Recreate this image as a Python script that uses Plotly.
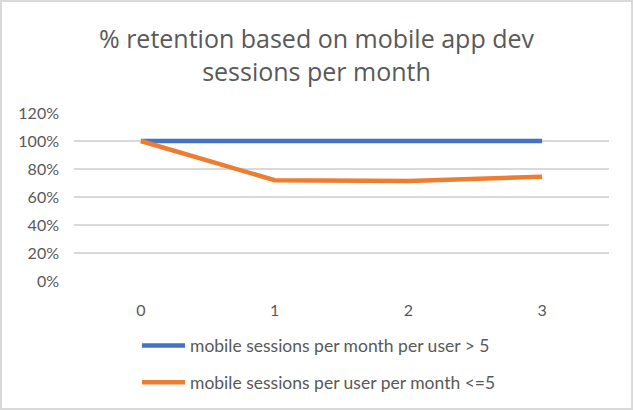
import plotly.graph_objects as go

months = ["0", "1", "2", "3"]
high_usage = [1.00, 1.00, 1.00, 1.00]
low_usage = [1.00, 0.72, 0.715, 0.745]
y_ticks = [0, 0.2, 0.4, 0.6, 0.8, 1.0, 1.2]
series_names = ["mobile sessions per month per user > 5",
                "mobile sessions per user per month <=5"]
title_text = "% retention based on mobile app dev<br>sessions per month"

FONT = "Lato"
TXT = "#595959"
GRID = "#D9D9D9"

L, R, T, B = 74, 24, 113, 129
W, H = 633, 410
PW, PH = W - L - R, H - T - B

fig = go.Figure()
fig.add_trace(go.Scatter(x=months, y=high_usage, mode="lines", name=series_names[0],
                         line=dict(color="#4472C4", width=4.5), legendgroup="a"))
fig.add_trace(go.Scatter(x=months, y=low_usage, mode="lines", name=series_names[1],
                         line=dict(color="#ED7D31", width=4.5), legendgroup="b"))

fig.update_layout(
    width=W, height=H,
    margin=dict(l=L, r=R, t=T, b=B, autoexpand=False),
    paper_bgcolor="white", plot_bgcolor="white",
    font=dict(family=FONT, color=TXT, size=16),
    title=dict(text=title_text, x=0.5, xanchor="center", y=1 - 48 / H, yanchor="middle",
               yref="container", font=dict(family="Open Sans", size=25, color=TXT)),
    showlegend=True,
    legend=dict(orientation="v", x=137 / W, xanchor="left", xref="container",
                y=1 - 364 / H, yanchor="middle", yref="container",
                tracegroupgap=11, itemwidth=43,
                font=dict(family=FONT, size=17.5, color=TXT), bgcolor="rgba(0,0,0,0)"),
    xaxis=dict(type="category", range=[-0.5, 3.5], showgrid=False, showline=False,
               zeroline=False, ticks="", ticklabelstandoff=18,
               tickfont=dict(family=FONT, size=16, color=TXT)),
    yaxis=dict(range=[0, 1.2], tickvals=y_ticks, tickformat=".0%", showgrid=True,
               gridcolor=GRID, gridwidth=1.5, zeroline=False, showline=False,
               ticks="", ticklabelstandoff=14,
               tickfont=dict(family=FONT, size=16, color=TXT)),
)
# light grey border around the whole chart
fig.add_shape(type="rect", xref="paper", yref="paper",
              x0=(1 - L) / PW, x1=(632 - L) / PW,
              y0=(T + PH - 409) / PH, y1=(T + PH - 1) / PH,
              line=dict(color="#D9D9D9", width=2), fillcolor="rgba(0,0,0,0)", layer="below")

fig.write_html("out.html")
